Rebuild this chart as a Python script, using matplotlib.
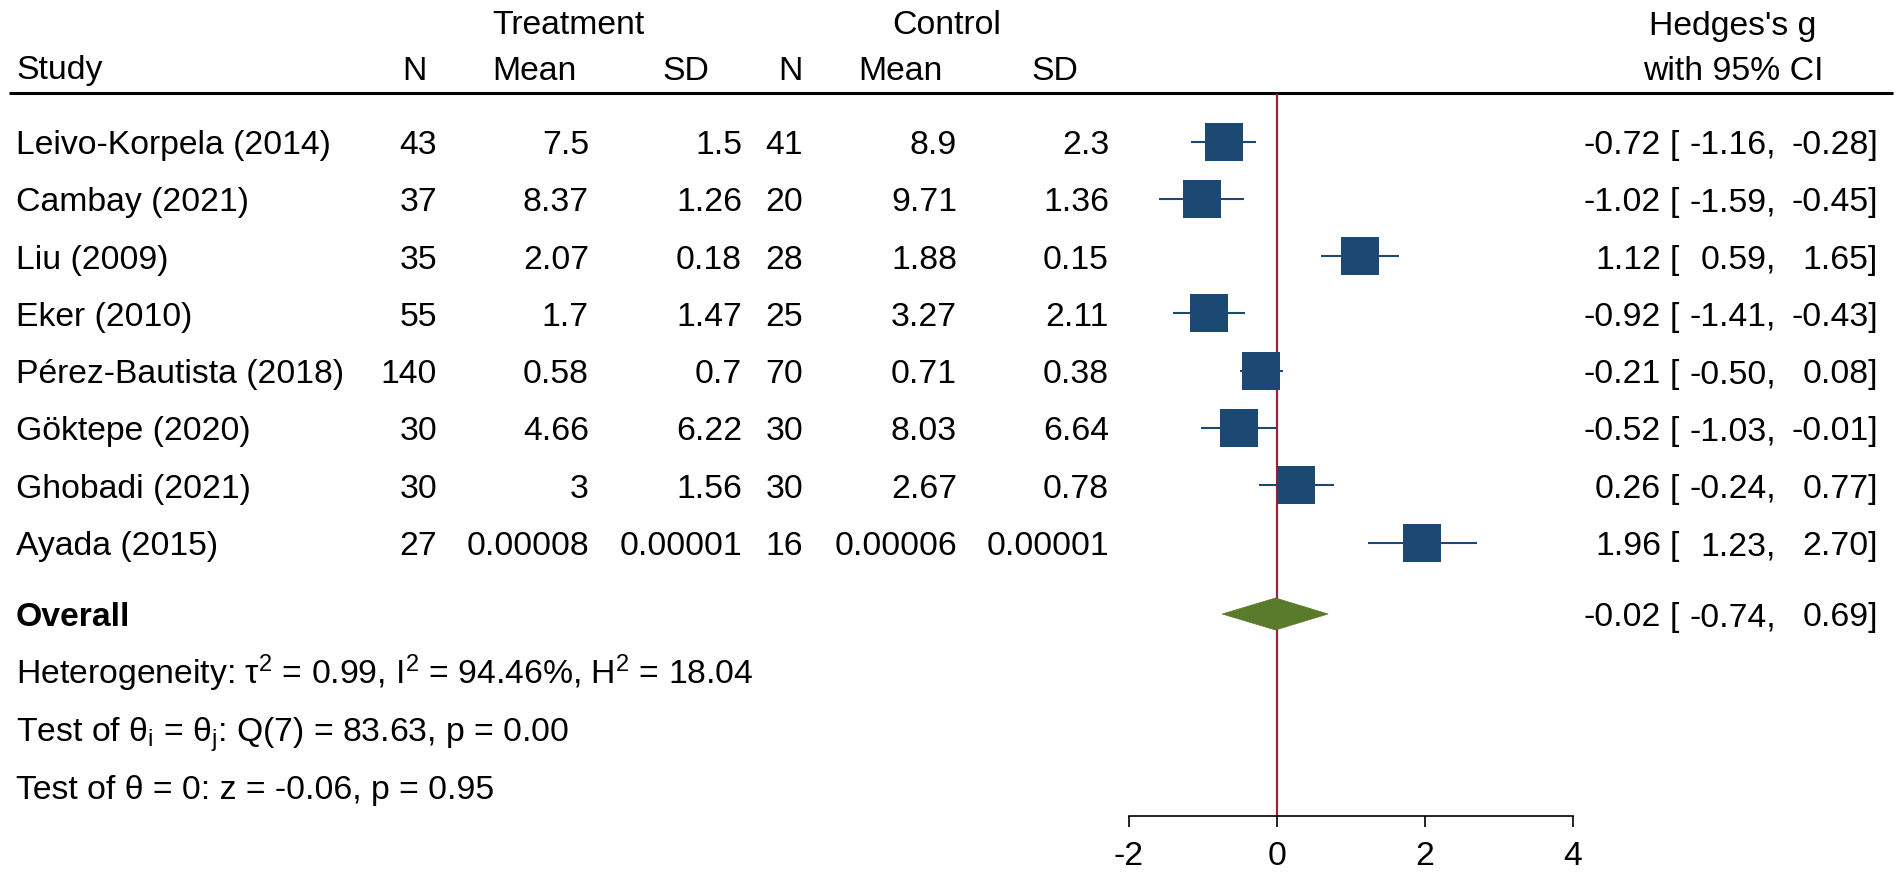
import numpy as np
import matplotlib
matplotlib.use("Agg")
import matplotlib.pyplot as plt
from matplotlib.patches import Polygon

# ---------------- data ----------------
studies = ["Leivo-Korpela (2014)", "Cambay (2021)", "Liu (2009)", "Eker (2010)",
           "Pérez-Bautista (2018)", "Göktepe (2020)", "Ghobadi (2021)", "Ayada (2015)"]
treat_n = [43, 37, 35, 55, 140, 30, 30, 27]
treat_mean = [7.5, 8.37, 2.07, 1.7, 0.58, 4.66, 3, 0.00008]
treat_sd = [1.5, 1.26, 0.18, 1.47, 0.7, 6.22, 1.56, 0.00001]
ctrl_n = [41, 20, 28, 25, 70, 30, 30, 16]
ctrl_mean = [8.9, 9.71, 1.88, 3.27, 0.71, 8.03, 2.67, 0.00006]
ctrl_sd = [2.3, 1.36, 0.15, 2.11, 0.38, 6.64, 0.78, 0.00001]
g = [-0.72, -1.02, 1.12, -0.92, -0.21, -0.52, 0.26, 1.96]
g_lo = [-1.16, -1.59, 0.59, -1.41, -0.50, -1.03, -0.24, 1.23]
g_hi = [-0.28, -0.45, 1.65, -0.43, 0.08, -0.01, 0.77, 2.70]
overall = [-0.02, -0.74, 0.69]  # estimate, lower, upper
xticks = [-2, 0, 2, 4]
het_text = (r"Heterogeneity: τ$\mathregular{^2}$ = 0.99, I$\mathregular{^2}$ = 94.46%, "
            r"H$\mathregular{^2}$ = 18.04")
test1_text = r"Test of θ$\mathregular{_i}$ = θ$\mathregular{_j}$: Q(7) = 83.63, p = 0.00"
test2_text = "Test of θ = 0: z = -0.06, p = 0.95"

# ---------------- style ----------------
plt.rcParams['font.family'] = ['Liberation Sans', 'DejaVu Sans']
plt.rcParams['mathtext.fontset'] = 'custom'
plt.rcParams['mathtext.rm'] = 'Liberation Sans'
plt.rcParams['mathtext.it'] = 'Liberation Sans:italic'
plt.rcParams['mathtext.bf'] = 'Liberation Sans:bold'
FS = 24.3
NAVY = '#1c4874'
GREEN = '#5a7a2c'
RED = '#a02040'

W, H = 1902, 878
fig = plt.figure(figsize=(W / 100, H / 100), dpi=100)
fig.patch.set_facecolor('white')

# text layer in pixel coordinates
T = fig.add_axes([0, 0, 1, 1])
T.set_xlim(0, W)
T.set_ylim(H, 0)
T.axis('off')

def fmt(v):
    return np.format_float_positional(v, trim='-')

CAP = 11.5  # half cap height, px
def txt(x, y, s, ha='left', **kw):
    T.text(x, y + CAP, s, ha=ha, va='baseline', fontsize=FS, color='black', **kw)

# headers
txt(492, 23, "Treatment")
txt(892, 23, "Control")
txt(1733, 23, "Hedges's g", ha='center')
txt(16, 68, "Study")
txt(427, 68, "N", ha='right')
txt(492, 68, "Mean")
txt(662, 68, "SD")
txt(803, 68, "N", ha='right')
txt(858, 68, "Mean")
txt(1031, 68, "SD")
txt(1733, 68, "with 95% CI", ha='center')
T.plot([9, 1893], [94, 94], color='black', lw=2.2, solid_capstyle='butt')

row_y = [142.5 + 57.3 * i for i in range(len(studies))]
y_over = 615

for i, y in enumerate(row_y):
    txt(16, y, studies[i])
    txt(437, y, str(treat_n[i]), ha='right')
    txt(589, y, fmt(treat_mean[i]), ha='right')
    txt(742, y, fmt(treat_sd[i]), ha='right')
    txt(803, y, str(ctrl_n[i]), ha='right')
    txt(957, y, fmt(ctrl_mean[i]), ha='right')
    txt(1109, y, fmt(ctrl_sd[i]), ha='right')
    txt(1661, y, f"{g[i]:.2f}", ha='right')
    txt(1670, y, "[")
    txt(1776, y, f"{g_lo[i]:.2f},", ha='right')
    txt(1878, y, f"{g_hi[i]:.2f}]", ha='right')

txt(16, y_over, "Overall", fontweight='bold')
txt(1661, y_over, f"{overall[0]:.2f}", ha='right')
txt(1670, y_over, "[")
txt(1776, y_over, f"{overall[1]:.2f},", ha='right')
txt(1878, y_over, f"{overall[2]:.2f}]", ha='right')
txt(16, 673, het_text)
txt(16, 730, test1_text)
txt(16, 788, test2_text)

# ---------------- forest axes ----------------
x0, x1 = 1129, 1573
ytop, ybot = 95, 817
ax = fig.add_axes([x0 / W, (H - ybot) / H, (x1 - x0) / W, (ybot - ytop) / H])
ax.set_xlim(xticks[0], xticks[-1])
ax.set_ylim(ybot, ytop)
ax.patch.set_alpha(0)
for s in ['top', 'right', 'left']:
    ax.spines[s].set_visible(False)
ax.spines['bottom'].set_linewidth(1.2)
ax.spines['bottom'].set_bounds(xticks[0], xticks[-1])
ax.set_yticks([])
ax.set_xticks(xticks)
ax.set_xticklabels([str(t) for t in xticks])
ax.tick_params(axis='x', direction='out', length=8, width=1.2, pad=9, labelsize=FS)

ax.axvline(0, color=RED, lw=1.6, zorder=1)
ax.hlines(row_y, g_lo, g_hi, color=NAVY, lw=1.5, zorder=2, clip_on=False)
ax.scatter(g, row_y, marker='s', s=27 ** 2, color=NAVY, zorder=3, linewidths=0, clip_on=False)
dh = 16
ax.add_patch(Polygon([[overall[1], y_over], [overall[0], y_over - dh],
                      [overall[2], y_over], [overall[0], y_over + dh]],
                     closed=True, facecolor=GREEN, edgecolor=GREEN, lw=0.5, zorder=3))

fig.savefig("out.png", dpi=100, facecolor='white')
